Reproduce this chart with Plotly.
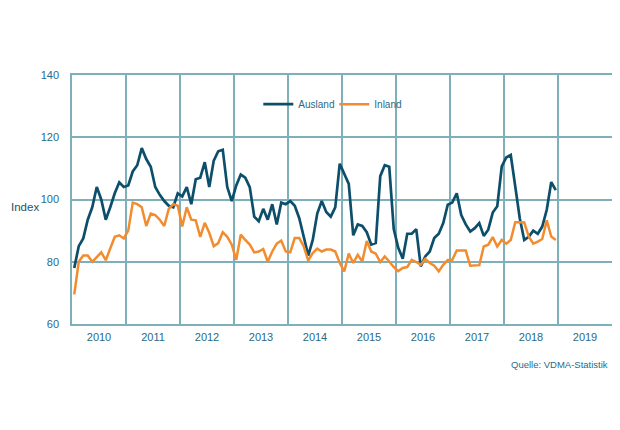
import plotly.graph_objects as go

start_year = 2010
years = list(range(2010, 2020))
year_labels = [str(y) for y in years]

ausland = [
    78, 85, 87.5, 93.5, 97.5, 104, 100, 93.5, 97.5, 102, 105.5, 104,
    104.5, 109, 111, 116.5, 113, 110.5, 104, 101.5, 99.5, 98, 97.5, 102,
    101, 104, 98.5, 106.5, 107, 112, 104, 112.5, 115.5, 116, 104, 99.5,
    104.5, 108, 107, 104, 94.5, 93, 97, 93.5, 98.5, 92, 99, 98.5,
    99.5, 98, 94, 88, 82, 87, 95.5, 99.5, 96, 94.5, 97.5, 111.5,
    108, 105, 88.5, 92, 91.5, 89.5, 85.5, 86, 107.5, 111, 110.5, 90.5,
    84.5, 81, 89, 89, 90.5, 78.5, 81.7, 83.3, 87.6, 89, 92.4, 98.3,
    99, 102, 95, 92, 89.7, 90.8, 92.4, 88.3, 90.3, 95.8, 97.8, 110.6,
    113.5, 114.3, 104.2, 94, 87, 88, 90, 89, 91.3, 96.7, 105.6, 103,
]

inland = [
    69.5, 80, 82, 82, 80, 81.5, 83, 80.5, 84.5, 88, 88.5, 87.5,
    90, 99, 98.5, 97.5, 91.5, 95.5, 95, 93.5, 91.5, 97, 98.5, 98,
    91.3, 97.5, 93.5, 93.3, 88, 92.5, 89.3, 85, 86, 89.5, 88, 85.5,
    80.6, 88.7, 87, 85.5, 83, 83.3, 84.1, 80, 83.3, 85.8, 86.8, 83.3,
    83, 87.6, 87.6, 84.9, 80.4, 82.8, 84.2, 83.3, 83.9, 83.9, 83.3, 79.6,
    76.9, 82.6, 79.6, 82.2, 80.1, 86.7, 83.3, 82.6, 79.9, 81.7, 80.1, 78.3,
    77, 78, 78.3, 80.6, 79.9, 79, 80.9, 79.6, 78.7, 76.9, 79, 80.6,
    80.6, 83.6, 83.6, 83.6, 78.7, 78.8, 78.9, 84.9, 85.5, 87.9, 84.9, 87,
    85.8, 87, 92.7, 92.7, 92.6, 88.1, 85.8, 86.5, 87.3, 93.3, 88.1, 87,
]

# monthly positions: each month centred within its year slot
x_months = [start_year + (i + 0.5) / 12 for i in range(len(ausland))]

grid_col = "#7db0b8"
text_col = "#2a6a86"
font_fam = "Arial, Liberation Sans, sans-serif"

fig = go.Figure()
fig.add_trace(go.Scatter(x=x_months, y=ausland, mode="lines", name="Ausland",
                         line=dict(color="#0d4f6b", width=2.7)))
fig.add_trace(go.Scatter(x=x_months, y=inland, mode="lines", name="Inland",
                         line=dict(color="#f28c2e", width=2.5)))

fig.update_layout(
    width=612, height=422,
    margin=dict(l=63.5, r=6, t=67, b=106),
    paper_bgcolor="white", plot_bgcolor="white",
    font=dict(family=font_fam, color=text_col),
    showlegend=True,
    legend=dict(orientation="h", x=0.345, y=0.883, xanchor="left", yanchor="middle",
                font=dict(size=10, color=text_col), bgcolor="rgba(0,0,0,0)",
                entrywidth=31, entrywidthmode="pixels", itemwidth=30),
    xaxis=dict(range=[2010, 2020], tickmode="array",
               tickvals=[y + 0.5 for y in years], ticktext=year_labels,
               showgrid=False, zeroline=False, ticks="",
               tickfont=dict(size=11, color=text_col), ticklabelstandoff=2,
               showline=True, mirror=True, linecolor=grid_col, linewidth=1.5,
               minor=dict(tick0=2010, dtick=1, showgrid=True, gridcolor=grid_col,
                          gridwidth=1.5, ticks="")),
    yaxis=dict(range=[60, 140], tickmode="linear", tick0=60, dtick=20,
               showgrid=True, gridcolor=grid_col, gridwidth=1.5, zeroline=False,
               tickfont=dict(size=11, color=text_col), ticklabelstandoff=9,
               showline=True, mirror=True, linecolor=grid_col, linewidth=1.5),
    annotations=[
        dict(text="Index", xref="paper", yref="paper", x=-0.117, y=0.47,
             xanchor="left", yanchor="middle", showarrow=False,
             font=dict(size=11.5, color="#2c4f63")),
        dict(text="Quelle: VDMA-Statistik", xref="paper", yref="paper", x=0.997, y=-0.161,
             xanchor="right", yanchor="middle", showarrow=False,
             font=dict(size=9.5, color=text_col)),
    ],
)

fig.write_html("out.html")
